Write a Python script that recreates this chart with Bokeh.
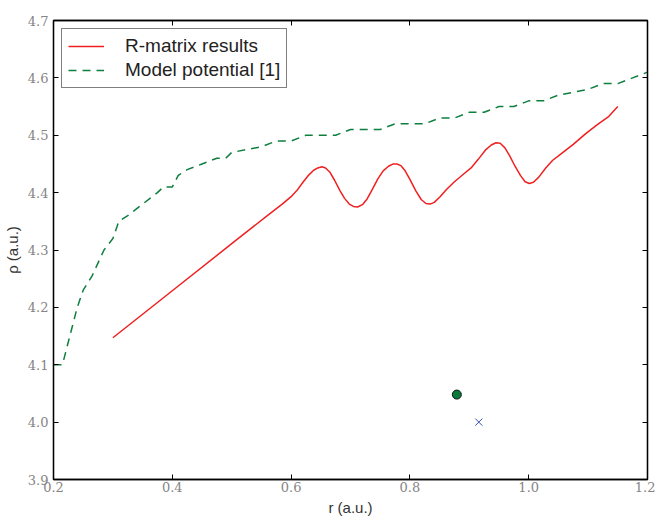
from bokeh.plotting import figure
from bokeh.models import LinearAxis, FixedTicker, PrintfTickFormatter, CustomJSTickFormatter
from bokeh.embed import file_html
from bokeh.resources import INLINE

# R-matrix results (red solid)
rm_r = [0.300, 0.400, 0.500, 0.560, 0.585, 0.600, 0.610, 0.620, 0.630, 0.638,
        0.645, 0.652, 0.658, 0.665, 0.673, 0.682, 0.690, 0.698, 0.705, 0.712,
        0.720, 0.728, 0.737, 0.746, 0.755, 0.764, 0.772, 0.778, 0.785, 0.792,
        0.800, 0.810, 0.819, 0.827, 0.834, 0.841, 0.850, 0.862, 0.875, 0.890,
        0.903, 0.915, 0.927, 0.937, 0.945, 0.952, 0.960, 0.968, 0.977, 0.986,
        0.994, 1.001, 1.008, 1.017, 1.028, 1.040, 1.055, 1.075, 1.095, 1.115,
        1.135, 1.150]
rm_rho = [4.147, 4.229, 4.311, 4.360, 4.380, 4.393, 4.404, 4.418, 4.431, 4.439,
          4.443, 4.445, 4.443, 4.436, 4.422, 4.404, 4.390, 4.380, 4.376, 4.375,
          4.379, 4.389, 4.406, 4.424, 4.438, 4.446, 4.450, 4.450, 4.447, 4.438,
          4.423, 4.403, 4.388, 4.381, 4.380, 4.383, 4.392, 4.406, 4.419, 4.432,
          4.443, 4.458, 4.474, 4.483, 4.487, 4.486, 4.478, 4.464, 4.446, 4.430,
          4.419, 4.416, 4.418, 4.427, 4.442, 4.456, 4.468, 4.484, 4.502, 4.518,
          4.533, 4.550]

# Model potential [1] (green dashed)
mp_r = [0.200, 0.215, 0.240, 0.250, 0.265, 0.285, 0.300, 0.310, 0.325, 0.350,
        0.375, 0.385, 0.400, 0.410, 0.425, 0.450, 0.475, 0.490, 0.500, 0.525,
        0.550, 0.575, 0.600, 0.625, 0.650, 0.675, 0.700, 0.725, 0.750, 0.775,
        0.800, 0.825, 0.850, 0.875, 0.900, 0.925, 0.950, 0.975, 1.000, 1.025,
        1.050, 1.075, 1.100, 1.125, 1.150, 1.175, 1.200]
mp_rho = [4.10, 4.10, 4.20, 4.23, 4.255, 4.30, 4.32, 4.35, 4.36, 4.38,
          4.40, 4.41, 4.41, 4.43, 4.44, 4.45, 4.46, 4.46, 4.47, 4.475,
          4.48, 4.49, 4.49, 4.50, 4.50, 4.50, 4.51, 4.51, 4.51, 4.52,
          4.52, 4.52, 4.53, 4.53, 4.54, 4.54, 4.55, 4.55, 4.56, 4.56,
          4.57, 4.575, 4.58, 4.59, 4.59, 4.60, 4.61]

# single points
circ_r, circ_rho = [0.879], [4.048]
cross_r, cross_rho = [0.916], [4.000]

xticks = [0.2, 0.4, 0.6, 0.8, 1.0, 1.2]
yticks = [3.9, 4.0, 4.1, 4.2, 4.3, 4.4, 4.5, 4.6, 4.7]

p = figure(frame_width=594, frame_height=459, x_range=(0.2, 1.2), y_range=(3.9, 4.7),
           output_backend="svg", toolbar_location=None,
           min_border_left=49, min_border_top=20, min_border_right=8, min_border_bottom=29)
p.grid.visible = False
p.outline_line_color = "black"
p.outline_line_width = 1.3
p.background_fill_color = "white"
p.border_fill_color = "white"

p.line(rm_r, rm_rho, line_color="#f02020", line_width=1.5, legend_label="R-matrix results")
p.line(mp_r, mp_rho, line_color="#0f7f3f", line_width=1.5, line_dash="8 6",
       legend_label="Model potential [1]")
p.scatter(circ_r, circ_rho, marker="circle", size=9, fill_color="#0a7a3a",
          line_color="#111111", line_width=1)
p.scatter(cross_r, cross_rho, marker="x", size=10, line_color="#3050b0", line_width=1)


def style_axis(ax, ticks, show_labels):
    ax.ticker = FixedTicker(ticks=ticks)
    ax.minor_tick_line_color = None
    ax.major_tick_in = 5
    ax.major_tick_out = 0
    ax.major_tick_line_color = "black"
    ax.axis_line_color = "black"
    ax.axis_line_width = 1.3
    ax.major_label_text_font = "DejaVu Serif"
    ax.major_label_text_color = "#858585"
    ax.major_label_text_font_size = "13px"
    if show_labels:
        ax.formatter = PrintfTickFormatter(format="%.1f")
    else:
        ax.formatter = CustomJSTickFormatter(code="return '';")
        ax.major_label_standoff = 0


xa = p.xaxis[0]
ya = p.yaxis[0]
style_axis(xa, xticks, True)
style_axis(ya, yticks, True)
xa.major_label_standoff = 2
ya.major_label_standoff = 5
xa.axis_label = "r (a.u.)"
ya.axis_label = "ρ (a.u.)"
for ax in (xa, ya):
    ax.axis_label_text_font = "Liberation Sans"
    ax.axis_label_text_font_size = "15px"
    ax.axis_label_text_font_style = "normal"
    ax.axis_label_text_color = "#333333"
xa.axis_label_standoff = 4
ya.axis_label_standoff = 4

top = LinearAxis()
style_axis(top, xticks, False)
p.add_layout(top, "above")
right = LinearAxis()
style_axis(right, yticks, False)
p.add_layout(right, "right")

lg = p.legend[0]
lg.location = "top_left"
lg.margin = 8
lg.padding = 6
lg.spacing = 2
lg.glyph_width = 36
lg.label_standoff = 21
lg.label_text_font = "Liberation Sans"
lg.label_text_font_size = "19px"
lg.label_text_color = "#222222"
lg.border_line_color = "black"
lg.border_line_width = 1
lg.background_fill_alpha = 1.0

open("out.html", "w").write(file_html(p, INLINE))
